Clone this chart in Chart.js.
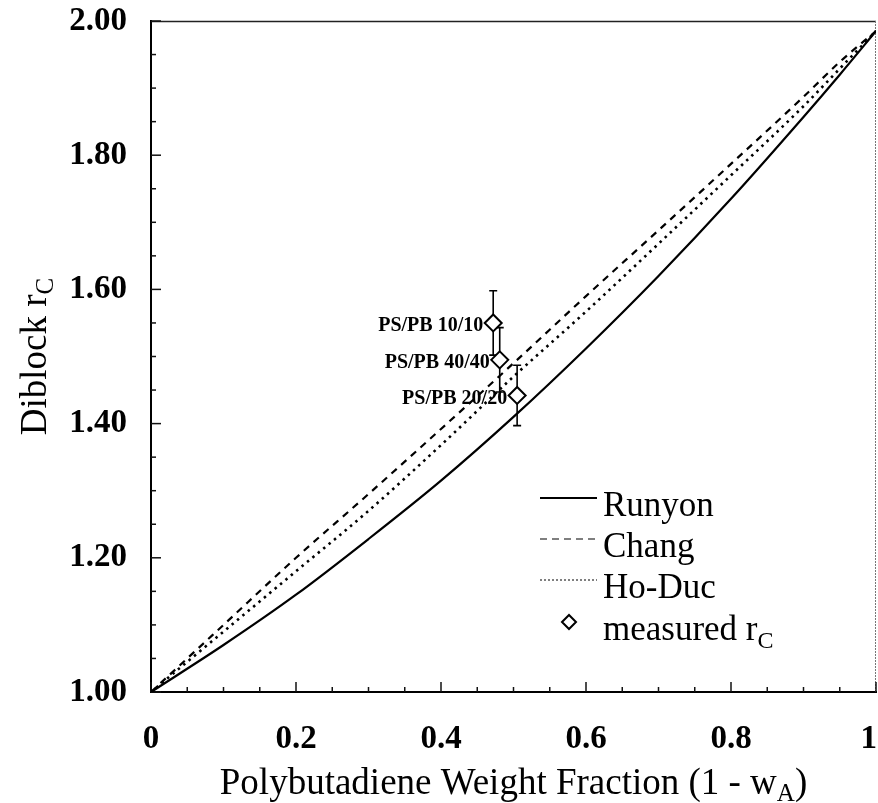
<!DOCTYPE html>
<html><head><meta charset="utf-8">
<script src="https://cdn.jsdelivr.net/npm/chart.js@4/dist/chart.umd.min.js"></script>
<style>html,body{margin:0;padding:0;background:#fff}#wrap{width:878px;height:803px;position:relative}</style>
</head><body><div id="wrap"><canvas id="c" width="878" height="803"></canvas></div>
<script>
// ---- data ----
const weightFraction = [0, 0.1, 0.2, 0.3, 0.4, 0.5, 0.6, 0.7, 0.8, 0.9, 0.95, 1];
const runyon = [1.000, 1.070, 1.145, 1.228, 1.315, 1.410, 1.512, 1.620, 1.735, 1.857, 1.920, 1.985];
const chang  = [1.000, 1.100, 1.200, 1.295, 1.392, 1.490, 1.590, 1.688, 1.787, 1.887, 1.939, 1.985];
const hoDuc  = [1.000, 1.090, 1.180, 1.270, 1.368, 1.470, 1.567, 1.668, 1.770, 1.873, 1.929, 1.985];
const sampleNames = ['PS/PB 10/10', 'PS/PB 40/40', 'PS/PB 20/20'];
const sampleX = [0.472, 0.481, 0.505];
const sampleY = [1.550, 1.495, 1.442];
const sampleErr = [0.048, 0.048, 0.045];
const xTicks = [0, 0.2, 0.4, 0.6, 0.8, 1];
const xTickLabels = ['0', '0.2', '0.4', '0.6', '0.8', '1'];
const yTicks = [1, 1.2, 1.4, 1.6, 1.8, 2];
const yTickLabels = ['1.00', '1.20', '1.40', '1.60', '1.80', '2.00'];
const seriesNames = ['Runyon', 'Chang', 'Ho-Duc', 'measured r'];

const SERIF = '"Liberation Serif", "Times New Roman", serif';

const curve = (arr) => weightFraction.map((x, i) => ({x, y: arr[i]}));
const samples = sampleX.map((x, i) => ({x, y: sampleY[i]}));

const decorPlugin = {
  id: 'decor',
  beforeDatasetsDraw(chart) {
    const {ctx, chartArea: a, scales: {x, y}} = chart;
    ctx.save();
    ctx.strokeStyle = '#222'; ctx.lineWidth = 1.5;
    ctx.beginPath(); ctx.moveTo(a.left, a.top + 0.5); ctx.lineTo(a.right, a.top + 0.5); ctx.stroke();
    ctx.strokeStyle = '#777'; ctx.lineWidth = 1; ctx.setLineDash([2, 1]);
    ctx.beginPath(); ctx.moveTo(a.right - 0.5, a.top); ctx.lineTo(a.right - 0.5, a.bottom); ctx.stroke();
    ctx.setLineDash([]);
    ctx.strokeStyle = '#111'; ctx.lineWidth = 1.5;
    for (let k = 0; k <= 20; k++) {
      const v = k * 0.05;
      const len = (k % 4 === 0) ? 10 : 5;
      const px = x.getPixelForValue(v);
      ctx.beginPath(); ctx.moveTo(px, a.bottom); ctx.lineTo(px, a.bottom - len); ctx.stroke();
      const py = y.getPixelForValue(1 + v);
      ctx.beginPath(); ctx.moveTo(a.left, py); ctx.lineTo(a.left + len, py); ctx.stroke();
    }
    ctx.strokeStyle = '#000'; ctx.lineWidth = 1.6;
    samples.forEach((p, i) => {
      const px = x.getPixelForValue(p.x);
      const top = y.getPixelForValue(p.y + sampleErr[i]);
      const bot = y.getPixelForValue(p.y - sampleErr[i]);
      ctx.beginPath();
      ctx.moveTo(px, top); ctx.lineTo(px, bot);
      ctx.moveTo(px - 4, top); ctx.lineTo(px + 4, top);
      ctx.moveTo(px - 4, bot); ctx.lineTo(px + 4, bot);
      ctx.stroke();
    });
    ctx.restore();
  },
  afterDatasetsDraw(chart) {
    const {ctx, scales: {x, y}} = chart;
    ctx.save();
    ctx.fillStyle = '#000';
    ctx.font = 'bold 20px ' + SERIF;
    ctx.textAlign = 'right'; ctx.textBaseline = 'middle';
    samples.forEach((p, i) => {
      ctx.fillText(sampleNames[i], x.getPixelForValue(p.x) - 10, y.getPixelForValue(p.y) + 3);
    });
    ctx.restore();
  },
  afterDraw(chart) {
    const {ctx, chartArea: a, scales: {x}} = chart;
    ctx.save();
    ctx.fillStyle = '#000';
    ctx.font = 'bold 33px ' + SERIF;
    ctx.textBaseline = 'alphabetic';
    xTicks.forEach((v, i) => {
      const px = x.getPixelForValue(v);
      const w = ctx.measureText(xTickLabels[i]).width;
      let left = px - w / 2;
      if (left + w > chart.width - 1) left = chart.width - 1 - w;
      ctx.textAlign = 'left';
      ctx.fillText(xTickLabels[i], left, a.bottom + 56);
    });

    const lx0 = 540, lx1 = 597, tx = 603;
    const rows = [498, 539, 580, 622];
    const bases = [516, 557, 598, 640];
    ctx.strokeStyle = '#000';
    ctx.lineWidth = 2; ctx.setLineDash([]);
    ctx.beginPath(); ctx.moveTo(lx0, rows[0]); ctx.lineTo(lx1, rows[0]); ctx.stroke();
    ctx.lineWidth = 1.2; ctx.setLineDash([7, 5]);
    ctx.beginPath(); ctx.moveTo(lx0, rows[1]); ctx.lineTo(lx1, rows[1]); ctx.stroke();
    ctx.setLineDash([2, 2]);
    ctx.beginPath(); ctx.moveTo(lx0, rows[2]); ctx.lineTo(lx1, rows[2]); ctx.stroke();
    ctx.setLineDash([]);
    const dx = 569, dy = rows[3], r = 7;
    ctx.lineWidth = 2;
    ctx.beginPath(); ctx.moveTo(dx - r, dy); ctx.lineTo(dx, dy - r); ctx.lineTo(dx + r, dy); ctx.lineTo(dx, dy + r); ctx.closePath(); ctx.stroke();
    ctx.font = '35px ' + SERIF;
    ctx.textAlign = 'left'; ctx.textBaseline = 'alphabetic';
    for (let i = 0; i < 4; i++) ctx.fillText(seriesNames[i], tx, bases[i]);
    const mw = ctx.measureText(seriesNames[3]).width;
    ctx.font = '24px ' + SERIF;
    ctx.fillText('C', tx + mw, bases[3] + 8);

    const big = '37px ' + SERIF, sub = '25px ' + SERIF;
    const p1 = 'Polybutadiene Weight Fraction (1 - w', p2 = 'A', p3 = ')';
    ctx.font = big; const w1 = ctx.measureText(p1).width, w3 = ctx.measureText(p3).width;
    ctx.font = sub; const w2 = ctx.measureText(p2).width;
    const cx = (a.left + a.right) / 2;
    const sx = cx - (w1 + w2 + w3) / 2;
    const by = 794;
    ctx.font = big; ctx.fillText(p1, sx, by);
    ctx.font = sub; ctx.fillText(p2, sx + w1, by + 7);
    ctx.font = big; ctx.fillText(p3, sx + w1 + w2, by);

    const q1 = 'Diblock r', q2 = 'C';
    ctx.font = big; const v1 = ctx.measureText(q1).width;
    ctx.font = sub; const v2 = ctx.measureText(q2).width;
    ctx.translate(46, (a.top + a.bottom) / 2);
    ctx.rotate(-Math.PI / 2);
    const sy = -(v1 + v2) / 2;
    ctx.font = big; ctx.fillText(q1, sy, 0);
    ctx.font = sub; ctx.fillText(q2, sy + v1, 7);
    ctx.restore();
  }
};

const fixScale = (w, h) => (scale) => {
  if (w !== null) scale.width = w;
  if (h !== null) scale.height = h;
  scale.paddingLeft = 0; scale.paddingRight = 0; scale.paddingTop = 0; scale.paddingBottom = 0;
};

new Chart(document.getElementById('c'), {
  type: 'scatter',
  data: {
    datasets: [
      {label: seriesNames[0], data: curve(runyon), showLine: true, borderColor: '#000', borderWidth: 2.2, pointRadius: 0, cubicInterpolationMode: 'monotone', order: 3},
      {label: seriesNames[1], data: curve(chang), showLine: true, borderColor: '#000', borderWidth: 2.2, borderDash: [7, 6], pointRadius: 0, cubicInterpolationMode: 'monotone', order: 2},
      {label: seriesNames[2], data: curve(hoDuc), showLine: true, borderColor: '#000', borderWidth: 2.6, borderDash: [2.5, 4.5], pointRadius: 0, cubicInterpolationMode: 'monotone', order: 1},
      {label: seriesNames[3], data: samples, showLine: false, pointStyle: 'rectRot', pointRadius: 8.5, pointBorderWidth: 2, pointBorderColor: '#000', pointBackgroundColor: '#fff', order: 0}
    ]
  },
  options: {
    responsive: false, animation: false, devicePixelRatio: 1,
    layout: {autoPadding: false, padding: {top: 21, right: 2, left: 0, bottom: 0}},
    plugins: {legend: {display: false}, tooltip: {enabled: false}},
    scales: {
      x: {
        type: 'linear', min: 0, max: 1,
        afterBuildTicks: (s) => { s.ticks = xTicks.map(v => ({value: v})); },
        afterFit: fixScale(null, 111),
        grid: {display: false, drawTicks: false},
        border: {display: true, color: '#000', width: 2},
        ticks: {display: false}
      },
      y: {
        type: 'linear', min: 1, max: 2,
        afterBuildTicks: (s) => { s.ticks = yTicks.map(v => ({value: v})); },
        afterFit: fixScale(151, null),
        grid: {display: false, drawTicks: false},
        border: {display: true, color: '#000', width: 2},
        ticks: {padding: 24, color: '#000', font: {family: SERIF, size: 33, weight: 'bold'},
          callback: (v, i) => yTickLabels[i]}
      }
    }
  },
  plugins: [decorPlugin]
});
</script></body></html>
